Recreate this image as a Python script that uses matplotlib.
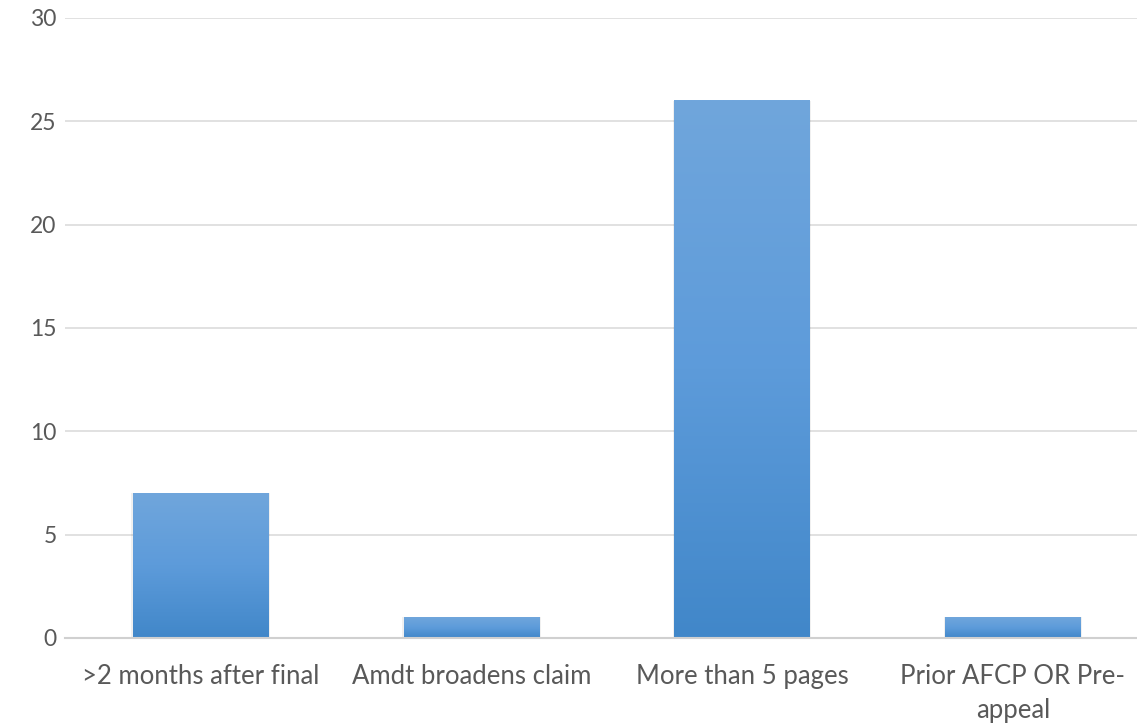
import numpy as np
import matplotlib.pyplot as plt
from matplotlib.colors import LinearSegmentedColormap

# data
categories = ['>2 months after final', 'Amdt broadens claim', 'More than 5 pages', 'Prior AFCP OR Pre-\nappeal']
values = [7, 1, 26, 1]
yticks = [0, 5, 10, 15, 20, 25, 30]

plt.rcParams['font.family'] = ['Lato', 'DejaVu Sans']

fig = plt.figure(figsize=(11.37, 7.25), dpi=100)
ax = fig.add_axes([65 / 1137, 1 - 638 / 725, 1 - 65 / 1137, (638 - 18) / 725])

x = np.arange(len(categories))
bw = 0.5
bars = ax.bar(x, values, width=bw, color='none', zorder=3)

# gradient fill (lighter at top)
cmap = LinearSegmentedColormap.from_list('g', ['#4187c9', '#5d9bda', '#70a6dc'])
grad = np.linspace(0, 1, 256).reshape(-1, 1)
for b in bars:
    x0, w, h = b.get_x(), b.get_width(), b.get_height()
    # soft shadow
    ax.bar(x0 + w / 2, h, width=w + 0.012, bottom=0, color='#000000', alpha=0.06, zorder=2)
    ax.imshow(grad, cmap=cmap, origin='lower', aspect='auto',
              extent=(x0, x0 + w, 0, h), zorder=3)

ax.set_xlim(-0.5, 3.458)
ax.set_ylim(0, 30)
ax.set_yticks(yticks)
ax.set_xticks(x)
ax.set_xticklabels(categories, linespacing=1.45)
ax.yaxis.grid(True, color='#d9d9d9', linewidth=1.1, zorder=0)
ax.set_axisbelow(True)
for s in ['top', 'right', 'left']:
    ax.spines[s].set_visible(False)
ax.spines['bottom'].set_color('#d0d0d0')
ax.spines['bottom'].set_linewidth(1.5)
ax.spines['bottom'].set_zorder(4)
ax.tick_params(axis='both', length=0, colors='#595959')
ax.tick_params(axis='y', pad=6, labelsize=16.5)
ax.tick_params(axis='x', pad=19, labelsize=18.5)

fig.savefig('out.png', dpi=100)
